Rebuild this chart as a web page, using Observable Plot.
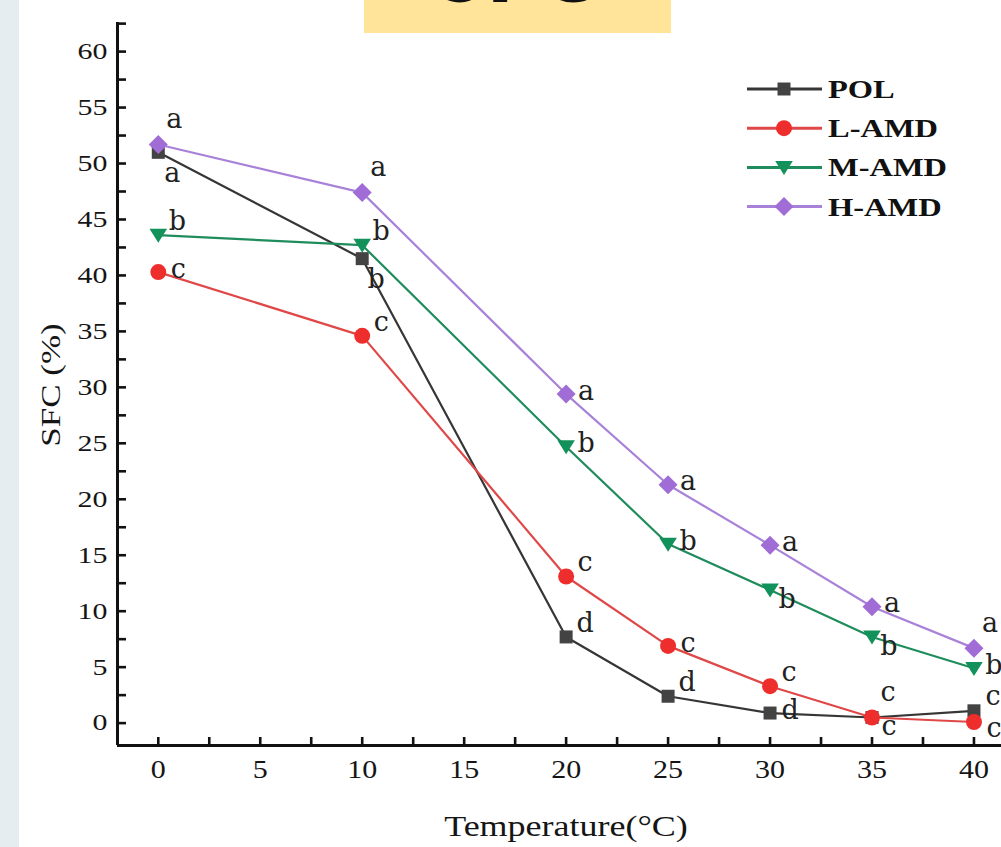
<!DOCTYPE html>
<html><head><meta charset="utf-8">
<script src="https://cdn.jsdelivr.net/npm/d3@7"></script>
<script src="https://cdn.jsdelivr.net/npm/@observablehq/plot@0.6"></script>
<style>
html,body{margin:0;padding:0;background:#fff;overflow:hidden;width:1001px;height:847px}
#chart{position:absolute;left:0;top:0}
#strip{position:absolute;left:0;top:0;width:19px;height:847px;background:#e5edf1}
#banner{position:absolute;left:364px;top:0;width:307px;height:33px;background:#ffe499;overflow:hidden}
#overlay{position:absolute;left:0;top:0;pointer-events:none}
</style></head><body>
<div id="chart"></div>
<div id="strip"></div>
<div id="banner"><svg width="307" height="33"><text x="153" y="2" text-anchor="middle" font-family="Lato" font-weight="900" font-size="92" fill="#111">SFC</text></svg></div>
<svg id="overlay" width="1001" height="847"></svg>
<script>
// ---- data ----
const temperatures = [0, 10, 20, 25, 30, 35, 40];
const seriesNames = ["POL", "L-AMD", "M-AMD", "H-AMD"];
const polValues  = [51.0, 41.5, 7.7, 2.4, 0.9, 0.5, 1.1];
const lamdValues = [40.3, 34.6, 13.1, 6.9, 3.3, 0.5, 0.1];
const mamdValues = [43.6, 42.7, 24.7, 16.0, 11.9, 7.7, 4.9];
const hamdValues = [51.7, 47.4, 29.4, 21.3, 15.9, 10.4, 6.7];
const polLetters  = ["a", "b", "d", "d", "d", "c", "c"];
const lamdLetters = ["c", "c", "c", "c", "c", "c", "c"];
const mamdLetters = ["b", "b", "b", "b", "b", "b", "b"];
const hamdLetters = ["a", "a", "a", "a", "a", "a", "a"];
const polPlace  = ["s", "s", "ne", "ne", "e", "se", "ne"];
const lamdPlace = ["e", "ne", "ne", "e", "ne", "n", "es"];
const mamdPlace = ["ne", "ne", "e", "e", "se", "se", "e"];
const hamdPlace = ["n", "n", "e", "e", "e", "e", "n"];
const xTickLabels = [0, 5, 10, 15, 20, 25, 30, 35, 40];
const yTickLabels = [0, 5, 10, 15, 20, 25, 30, 35, 40, 45, 50, 55, 60];
const xTickMarks = d3.range(0, 40.01, 2.5);
const yTickMarks = d3.range(0, 62.51, 2.5);
const xTitle = "Temperature(°C)";
const yTitle = "SFC (%)";

// ---- styles ----
const mkSym = (pts) => ({draw(ctx, size) {
  const r = Math.sqrt(size / Math.PI);
  ctx.moveTo(pts[0][0] * r, pts[0][1] * r);
  for (let i = 1; i < pts.length; ++i) ctx.lineTo(pts[i][0] * r, pts[i][1] * r);
  ctx.closePath();
}});
const squareSym = mkSym([[-1,-1],[1,-1],[1,1],[-1,1]]);
const triDownSym = mkSym([[-1.1,-0.8],[1.1,-0.8],[0,0.95]]);
const diamondSym = mkSym([[0,-1],[1,0],[0,1],[-1,0]]);
const seriesStyle = {
  "POL":   {line: "#363636", fill: "#434343", symbol: squareSym, r: 6.5},
  "L-AMD": {line: "#e04848", fill: "#ee2d2d", symbol: "circle", r: 8},
  "M-AMD": {line: "#1f8c5c", fill: "#12915a", symbol: triDownSym, r: 8},
  "H-AMD": {line: "#a882d9", fill: "#a06cd6", symbol: diamondSym, r: 9.5}
};
const placeOffset = {n: [16, -25], ne: [19, -14], e: [20, -3], es: [20, 6], se: [17, 9], s: [14, 21]};

const valueArrays = [polValues, lamdValues, mamdValues, hamdValues];
const letterArrays = [polLetters, lamdLetters, mamdLetters, hamdLetters];
const placeArrays = [polPlace, lamdPlace, mamdPlace, hamdPlace];
const rows = [];
seriesNames.forEach((s, i) => temperatures.forEach((t, j) => rows.push({
  series: s, t, v: valueArrays[i][j], letter: letterArrays[i][j], place: placeArrays[i][j]
})));

const marks = [];
for (const s of seriesNames) {
  const st = seriesStyle[s];
  const data = rows.filter(d => d.series === s);
  marks.push(Plot.line(data, {x: "t", y: "v", stroke: st.line, strokeWidth: 2.2}));
  marks.push(Plot.dot(data, {x: "t", y: "v", symbol: st.symbol, r: st.r, fill: st.fill, stroke: "none"}));
}
for (const p of Object.keys(placeOffset)) {
  marks.push(Plot.text(rows.filter(d => d.place === p), {
    x: "t", y: "v", text: "letter", dx: placeOffset[p][0], dy: placeOffset[p][1],
    fontSize: 27, fontFamily: "DejaVu Serif", fill: "#222", className: "letters"
  }));
}

const chart = Plot.plot({
  width: 1001, height: 847,
  marginLeft: 117, marginTop: 22, marginBottom: 102, marginRight: 0,
  style: {fontFamily: "Liberation Serif", background: "#fff", color: "#111"},
  x: {domain: [-2, 41.35]},
  y: {domain: [-2, 62.6]},
  marks: [
    Plot.axisY(yTickMarks, {anchor: "left", tickSize: 9, dx: 9, fill: "none", label: null, strokeWidth: 2.6, stroke: "#111"}),
    Plot.axisX(xTickMarks, {anchor: "bottom", tickSize: 8, dy: -8, fill: "none", label: null, strokeWidth: 2.6, stroke: "#111"}),
    Plot.axisY(yTickLabels, {anchor: "left", tickSize: 0, tickPadding: 10, fontSize: 23, label: null, fill: "#151515", className: "ylab"}),
    Plot.axisX(xTickLabels, {anchor: "bottom", tickSize: 0, tickPadding: 15, fontSize: 25, label: null, fill: "#151515", className: "xlab"}),
    Plot.ruleX([-2], {stroke: "#111", strokeWidth: 3}),
    Plot.ruleY([-2], {stroke: "#111", strokeWidth: 3}),
    ...marks
  ]
});
document.getElementById("chart").appendChild(chart);

// widen tick-label text horizontally to match reference proportions
chart.querySelectorAll("text").forEach(t => {
  if (t.closest(".letters")) return;
  const k = t.closest(".xlab") ? 1.2 : 1.3;
  const L = t.getComputedTextLength();
  if (L > 0) { t.setAttribute("textLength", L * k); t.setAttribute("lengthAdjust", "spacingAndGlyphs"); }
});

// ---- titles & legend (overlay) ----
const ov = d3.select("#overlay");
ov.append("text").text(yTitle)
  .attr("transform", "translate(50,385) rotate(-90) scale(1.25,1)")
  .attr("text-anchor", "middle").attr("dy", "0.35em")
  .attr("font-family", "Liberation Serif").attr("font-size", 28).attr("fill", "#151515");
ov.append("text").text(xTitle)
  .attr("transform", "translate(566,825) scale(1.2,1)")
  .attr("text-anchor", "middle").attr("dy", "0.35em")
  .attr("font-family", "Liberation Serif").attr("font-size", 30).attr("fill", "#151515");
seriesNames.forEach((s, i) => {
  const st = seriesStyle[s];
  const y = 89 + i * 39.2;
  ov.append("line").attr("x1", 747).attr("x2", 822).attr("y1", y).attr("y2", y)
    .attr("stroke", st.line).attr("stroke-width", 3);
  const sym = typeof st.symbol === "string" ? d3.symbolCircle : st.symbol;
  ov.append("path").attr("d", d3.symbol(sym, st.r * st.r * Math.PI)())
    .attr("transform", `translate(784,${y})`).attr("fill", st.fill);
  ov.append("text").text(s).attr("transform", `translate(828,${y + 9}) scale(1.3,1)`)
    .attr("font-family", "Liberation Serif").attr("font-weight", "bold").attr("font-size", 25).attr("fill", "#111");
});
</script>
</body></html>
